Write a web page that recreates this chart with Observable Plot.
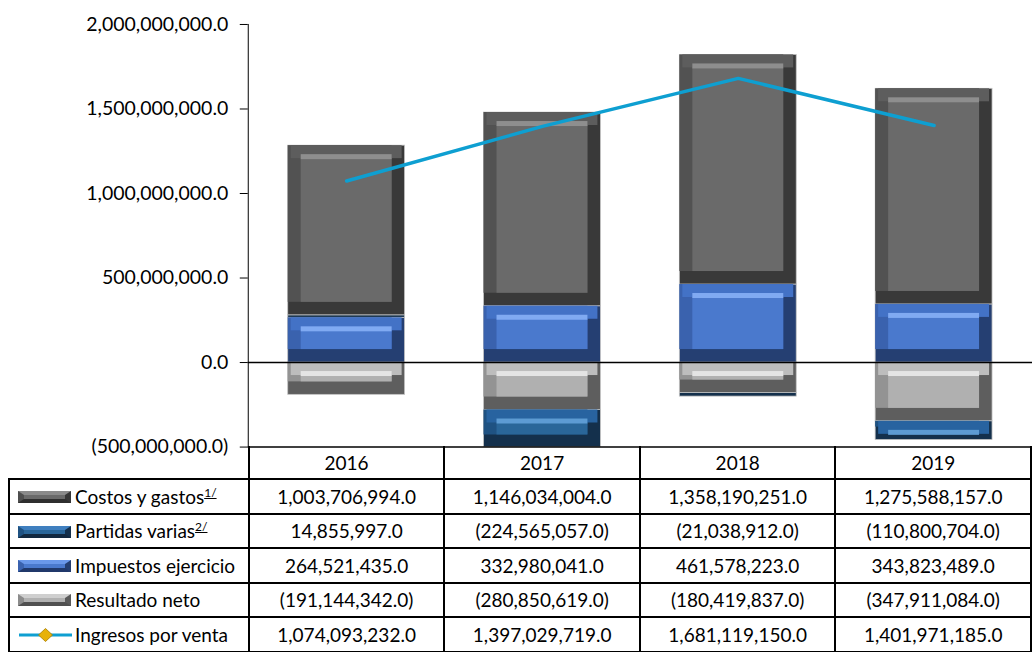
<!DOCTYPE html>
<html>
<head>
<meta charset="utf-8">
<script src="https://cdn.jsdelivr.net/npm/d3@7"></script>
<script src="https://cdn.jsdelivr.net/npm/@observablehq/plot@0.6"></script>
<style>
  html, body { margin: 0; padding: 0; background: #fff; }
  #wrap { position: relative; width: 1032px; height: 652px; overflow: hidden; font-family: Lato, "Open Sans", sans-serif; }
  #chart { position: absolute; left: 0; top: 0; }
  #tbl { position: absolute; left: 8px; top: 446px; border-collapse: collapse; table-layout: fixed; font-size: 19px; color: #000; }
  #tbl td { border: 2px solid #000; height: 32.5px; padding: 0; text-align: center; white-space: nowrap; }
  #tbl td.lab { text-align: left; padding-left: 8px; }
  #tbl td.blank { border-top: none; border-left: none; }
  #tbl tr.hdr td { border-top: none; height: 32px; }
  .ico { display: inline-block; width: 41px; height: 4px; border-style: solid; border-width: 4px 6px; vertical-align: middle; margin-right: 4px; position: relative; top: -2px; }
  sup { font-size: 12px; }
</style>
</head>
<body>
<div id="wrap">
  <div id="chart"></div>
  <table id="tbl"></table>
</div>
<script>
// ---- data ----
const years = ["2016", "2017", "2018", "2019"];
const costos = [1003706994, 1146034004, 1358190251, 1275588157];
const partidas = [14855997, -224565057, -21038912, -110800704];
const impuestos = [264521435, 332980041, 461578223, 343823489];
const resultado = [-191144342, -280850619, -180419837, -347911084];
const ingresos = [1074093232, 1397029719, 1681119150, 1401971185];
const yTicks = [-500000000, 0, 500000000, 1000000000, 1500000000, 2000000000];

// series in stacking order (first = nearest zero)
const seriesNames = ["Resultado neto", "Impuestos ejercicio", "Partidas varias", "Costos y gastos"];
const seriesValues = [resultado, impuestos, partidas, costos];
const palette = {
  "Costos y gastos":     {dark: "#393939", side: "#525252", top: "#5d5d5d", face: "#6a6a6a", hi: "#8e8e8e"},
  "Partidas varias":     {dark: "#14304c", side: "#1f5282", top: "#2863a0", face: "#2a6699", hi: "#5d9bd3"},
  "Impuestos ejercicio": {dark: "#253f72", side: "#3a62ae", top: "#4372c6", face: "#4a79cd", hi: "#80aaf2"},
  "Resultado neto":      {dark: "#5e5e5e", side: "#939393", top: "#bdbdbd", face: "#b0b0b0", hi: "#e4e4e4"}
};

// build stacked table
const rows = [];
years.forEach((yr, i) => {
  let pos = 0, neg = 0;
  seriesNames.forEach((s, k) => {
    const v = seriesValues[k][i];
    let y1, y2;
    if (v >= 0) { y1 = pos; y2 = pos + v; pos = y2; }
    else { y1 = neg; y2 = neg + v; neg = y2; }
    rows.push({year: yr, series: s, value: v, y1, y2, top: Math.max(y1, y2)});
  });
});
const lineData = years.map((yr, i) => ({year: yr, value: ingresos[i]}));

const fmtNum = d => d < 0 ? "(" + d3.format(",.1f")(-d) + ")" : d3.format(",.1f")(d);

const b = 13;
const col = key => d => palette[d.series][key];
const bigRows = rows.filter(d => Math.abs(d.value) > 100000000);

const chart = Plot.plot({
  width: 1033,
  height: 449,
  marginLeft: 248,
  marginRight: 0,
  marginTop: 24,
  marginBottom: 2,
  style: {fontFamily: "Lato, 'Open Sans', sans-serif", fontSize: "19.5px", color: "#000", background: "transparent", overflow: "visible"},
  x: {domain: years, axis: null, paddingInner: 0.405, paddingOuter: 0.2025},
  y: {domain: [-500000000, 2000000000], ticks: yTicks, tickFormat: fmtNum, tickSize: 8, tickPadding: 12, line: true, label: null},
  marks: [
    Plot.barY(rows, {x: "year", y1: "y1", y2: "y2", fill: col("dark"), stroke: "#c4c4c4", strokeWidth: 0.8, clip: true}),
    Plot.barY(rows, {x: "year", y1: "y1", y2: "y2", fill: col("side"), insetRight: b, insetBottom: b, clip: true}),
    Plot.barY(bigRows, {x: "year", y1: "top", y2: "top", fill: col("top"), insetLeft: 3, insetRight: 3, insetTop: 0, insetBottom: -b, clip: true}),
    Plot.barY(rows, {x: "year", y1: "y1", y2: "y2", fill: col("face"), insetLeft: b, insetRight: b, insetTop: b, insetBottom: b, clip: true}),
    Plot.barY(bigRows, {x: "year", y1: "top", y2: "top", fill: col("hi"), insetLeft: b, insetRight: b, insetTop: b - 4, insetBottom: -(b + 1), clip: true}),
    Plot.ruleY([0], {stroke: "#000", strokeWidth: 1.6}),
    Plot.ruleY([-500000000], {stroke: "#000", strokeWidth: 1.6}),
    Plot.line(lineData, {x: "year", y: "value", stroke: "#0e9fd1", strokeWidth: 3.5})
  ]
});
document.getElementById("chart").appendChild(chart);

// ---- data table ----
const legendSeries = [
  {name: "Costos y gastos", sup: "1/", vals: costos, ico: ["#8a8a8a", "#363636", "#2e2e2e", "#4e4e4e"], bg: "#6a6a6a"},
  {name: "Partidas varias", sup: "2/", vals: partidas, ico: ["#3f7fbf", "#14304c", "#12283f", "#1f5282"], bg: "#2a6699"},
  {name: "Impuestos ejercicio", sup: null, vals: impuestos, ico: ["#6a98ea", "#243e70", "#20386a", "#3a62ae"], bg: "#4a79cd"},
  {name: "Resultado neto", sup: null, vals: resultado, ico: ["#cfcfcf", "#5a5a5a", "#505050", "#8c8c8c"], bg: "#b1b1b1"},
  {name: "Ingresos por venta", sup: null, vals: ingresos, line: true}
];
const tbl = document.getElementById("tbl");
const cg = document.createElement("colgroup");
[240, 196.25, 196.25, 196.25, 196.25].forEach(w => { const c = document.createElement("col"); c.style.width = w + "px"; cg.appendChild(c); });
tbl.appendChild(cg);
const hdr = document.createElement("tr"); hdr.className = "hdr";
const blank = document.createElement("td"); blank.className = "blank"; hdr.appendChild(blank);
years.forEach(y => { const td = document.createElement("td"); td.textContent = y; hdr.appendChild(td); });
tbl.appendChild(hdr);
legendSeries.forEach(s => {
  const tr = document.createElement("tr");
  const lab = document.createElement("td"); lab.className = "lab";
  if (s.line) {
    lab.innerHTML = '<svg width="55" height="14" style="vertical-align:middle;margin-right:2px;position:relative;top:-2px"><line x1="1" y1="7" x2="54" y2="7" stroke="#0e9fd1" stroke-width="3"/><path d="M27.5,0.5 L34.5,7 L27.5,13.5 L20.5,7 Z" fill="#e7b10a" stroke="#a87c00" stroke-width="0.8"/></svg>';
  } else {
    lab.innerHTML = '<span class="ico" style="border-color:' + s.ico.join(" ") + ';background:' + s.bg + '"></span>';
  }
  const t = document.createElement("span"); t.textContent = s.name; lab.appendChild(t);
  if (s.sup) { const sp = document.createElement("sup"); sp.innerHTML = "<u>" + s.sup + "</u>"; lab.appendChild(sp); }
  tr.appendChild(lab);
  s.vals.forEach(v => { const td = document.createElement("td"); td.textContent = fmtNum(v); tr.appendChild(td); });
  tbl.appendChild(tr);
});
</script>
</body>
</html>
